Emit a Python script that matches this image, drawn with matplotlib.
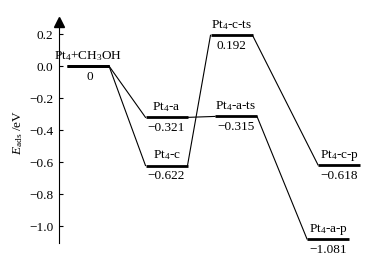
import matplotlib
matplotlib.use('Agg')
import matplotlib.pyplot as plt

plt.rcParams['font.family'] = ['Liberation Serif', 'DejaVu Serif']
plt.rcParams['mathtext.fontset'] = 'custom'
plt.rcParams['mathtext.rm'] = 'Liberation Serif'
plt.rcParams['mathtext.it'] = 'Liberation Serif:italic'

# data
start_label = 'Pt$_4$+CH$_3$OH'
start_energy = 0.0
path_a_labels = ['Pt$_4$-a', 'Pt$_4$-a-ts', 'Pt$_4$-a-p']
path_a_energy = [-0.321, -0.315, -1.081]
path_c_labels = ['Pt$_4$-c', 'Pt$_4$-c-ts', 'Pt$_4$-c-p']
path_c_energy = [-0.622, 0.192, -0.618]

# layout (x centre of each step, per path)
start_x = 88
path_a_x = [166.5, 236, 328]
path_c_x = [166.5, 231.5, 339]
half_w = 21
fs = 9.5

def fmt(v):
    if v == 0:
        return '0'
    return ('\u2212' if v < 0 else '') + f'{abs(v):.3f}'

fig = plt.figure(figsize=(3.72, 2.60), dpi=100)
ax = fig.add_axes([59/372, 1-243/260, 1-59/372, (243-22)/260])

def draw_path(xs, es, labels):
    xs = [start_x] + xs
    es = [start_energy] + es
    for i in range(len(xs)):
        ax.plot([xs[i]-half_w, xs[i]+half_w], [es[i], es[i]], color='black', lw=2, solid_capstyle='butt')
        if i > 0:
            ax.plot([xs[i-1]+half_w, xs[i]-half_w], [es[i-1], es[i]], color='black', lw=0.8)
            ax.text(xs[i], es[i]+0.045, labels[i-1], ha='center', va='baseline', fontsize=fs)
            ax.text(xs[i], es[i]-0.03, fmt(es[i]), ha='center', va='top', fontsize=fs)

draw_path(path_a_x, path_a_energy, path_a_labels)
draw_path(path_c_x, path_c_energy, path_c_labels)
ax.text(start_x, start_energy+0.045, start_label, ha='center', va='baseline', fontsize=fs)
ax.text(start_x+2, start_energy-0.03, fmt(start_energy), ha='center', va='top', fontsize=fs)

ticks = [0.2, 0.0, -0.2, -0.4, -0.6, -0.8, -1.0]
ax.set_xlim(59, 372)
ax.set_ylim(-1.106, 0.275)
ax.set_yticks(ticks)
ax.set_yticklabels([f'{t:.1f}'.replace('-', '\u2212') for t in ticks])
ax.tick_params(axis='y', direction='in', length=3, width=0.8, labelsize=fs, pad=4)
ax.set_xticks([])
for s in ['top', 'right', 'bottom']:
    ax.spines[s].set_visible(False)
ax.spines['left'].set_linewidth(0.8)
ax.plot([0], [1.0], marker='^', color='black', markersize=7, transform=ax.transAxes, clip_on=False)
ax.set_ylabel('$E_{\\mathrm{ads}}$ /eV', fontsize=fs, labelpad=3)

fig.savefig('out.png', dpi=100)
